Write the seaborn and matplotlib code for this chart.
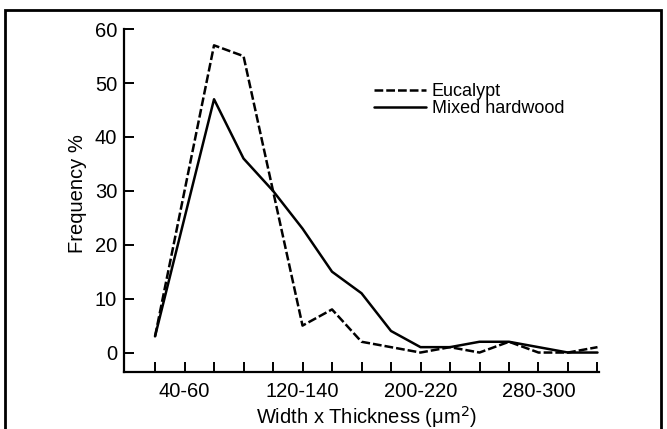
import pandas as pd
import matplotlib
matplotlib.use("Agg")
import matplotlib.pyplot as plt
import seaborn as sns
from matplotlib.patches import Rectangle

# Bins along the x axis (only every 4th one is labelled)
bins = ["20-40", "40-60", "60-80", "80-100", "100-120", "120-140", "140-160",
        "160-180", "180-200", "200-220", "220-240", "240-260", "260-280",
        "280-300", "300-320", "320-340"]
shown_labels = ["40-60", "120-140", "200-220", "280-300"]

# Eucalypt: bin positions and frequency %
euc_bins = ["20-40", "60-80", "80-100", "120-140", "140-160", "160-180", "180-200",
            "200-220", "220-240", "240-260", "260-280", "280-300", "300-320", "320-340"]
euc_freq = [3, 57, 55, 5, 8, 2, 1, 0, 1, 0, 2, 0, 0, 1]

# Mixed hardwood
mix_bins = ["20-40", "60-80", "80-100", "100-120", "120-140", "140-160", "160-180",
            "180-200", "200-220", "220-240", "240-260", "260-280", "280-300",
            "300-320", "320-340"]
mix_freq = [3, 47, 36, 30, 23, 15, 11, 4, 1, 1, 2, 2, 1, 0, 0]

pos = {b: i for i, b in enumerate(bins)}
df = pd.concat([
    pd.DataFrame({"pos": [pos[b] for b in euc_bins], "freq": euc_freq, "wood": "Eucalypt"}),
    pd.DataFrame({"pos": [pos[b] for b in mix_bins], "freq": mix_freq, "wood": "Mixed hardwood"}),
])

sns.set_style("ticks")
plt.rcParams["font.family"] = ["Liberation Sans", "DejaVu Sans"]
plt.rcParams["text.color"] = "black"
plt.rcParams["axes.labelcolor"] = "black"

fig = plt.figure(figsize=(6.67, 4.29), dpi=100)
ax = fig.add_axes([0.186, 0.133, 0.712, 0.799])

sns.lineplot(data=df, x="pos", y="freq", style="wood", color="black",
             dashes={"Eucalypt": (3.5, 1.2), "Mixed hardwood": ""},
             linewidth=1.8, ax=ax, legend=True)

ax.set_xlim(-1.05, 15.05)
ax.set_ylim(-3.6, 60)
ax.set_yticks(range(0, 61, 10))
ax.set_xticks(range(len(bins)))
ax.set_xticklabels([b if b in shown_labels else "" for b in bins])

sns.despine(ax=ax)
for s in ["left", "bottom"]:
    ax.spines[s].set_linewidth(1.6)
    ax.spines[s].set_color("black")
ax.tick_params(axis="both", direction="in", length=7, width=1.4,
               labelsize=14.5, colors="black")
ax.tick_params(axis="y", pad=5)
ax.tick_params(axis="x", pad=7)

ax.set_xlabel("Width x Thickness (\u03bcm$^2$)", fontsize=14.5)
ax.set_ylabel("Frequency %", fontsize=14.5)
ax.yaxis.set_label_coords(-0.078, 0.52)
ax.xaxis.set_label_coords(0.51, -0.095)

handles, labels = ax.get_legend_handles_labels()
leg = ax.legend(handles, labels, loc="upper left", frameon=False,
                bbox_to_anchor=(374 / 667, 1 - 83 / 429), bbox_transform=fig.transFigure,
                fontsize=13, handlelength=2.9, handletextpad=0.3,
                labelspacing=0.0, borderpad=0, borderaxespad=0)

# scanned page frame
fig.patches.append(Rectangle((5 / 667, -0.05), (661 - 5) / 667, 1.05 - 10 / 429,
                             transform=fig.transFigure, fill=False,
                             edgecolor="black", linewidth=2))

fig.savefig("out.png", dpi=100)
